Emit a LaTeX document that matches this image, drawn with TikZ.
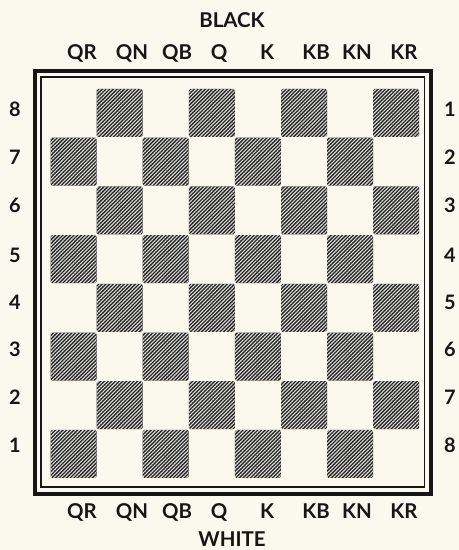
\documentclass[tikz,border=0pt]{standalone}
\usepackage{fontspec}
\setmainfont{Lato}
\usetikzlibrary{patterns.meta}
\definecolor{boardPaper}{HTML}{FBF8EE}
\definecolor{boardInk}{HTML}{161616}
\definecolor{boardStripe}{HTML}{DADAD6}
\tikzset{
  darksq/.style={draw=none, fill=boardInk!95, rounded corners=1.5bp,
              minimum width=46bp, minimum height=48bp, inner sep=0pt,
              postaction={pattern={Lines[angle=45,distance=2.6bp,line width=1.1bp]},
                          pattern color=boardStripe}},
  lbl/.style={font=\fontsize{20.5}{20.5}\selectfont\bfseries, text=boardInk,
              inner sep=0pt, anchor=base},
  side/.style={lbl, font=\fontsize{20}{20}\selectfont\bfseries},
  outerframe/.style={draw=boardInk, line width=4bp},
  innerframe/.style={draw=boardInk, line width=1.3bp},
}
\begin{document}
\begin{tikzpicture}[x=1bp,y=-1bp]
        \useasboundingbox[fill=boardPaper] (0,0) rectangle (459,550);
        % frame: thick outside, thin inside
        \draw[outerframe] (35,71) rectangle (431,494);
        \draw[innerframe] (41,77) rectangle (424.5,487);
        % dark squares
        \foreach \i in {0,...,7}{
          \foreach \j in {0,...,7}{
            \pgfmathtruncatemacro{\odd}{mod(\i+\j,2)}
            \ifnum\odd=1
              \node[darksq] (sq\i\j) at ({73.5+46.1*\j},{113+48.7*\i}) {};
            \fi}}
        % files, top and bottom
        \foreach \f/\x in {QR/82,QN/132,QB/177,Q/219,K/267,KB/316,KN/357,KR/404}{
          \node[lbl] (top\f) at (\x,60) {\f};
          \node[lbl] (bot\f) at (\x,518) {\f};}
        % ranks, counted from each side
        \foreach \l/\r/\y in {8/1/117,7/2/165,6/3/213,5/4/262.5,4/5/309,3/6/356,2/7/404,1/8/452}{
          \node[side] (left\l) at (15,\y) {\l};
          \node[side] (right\r) at (450,\y) {\r};}
        \node[lbl] (black) at (232,28) {BLACK};
        \node[lbl] (white) at (232,546) {WHITE};
      \end{tikzpicture}
\end{document}
